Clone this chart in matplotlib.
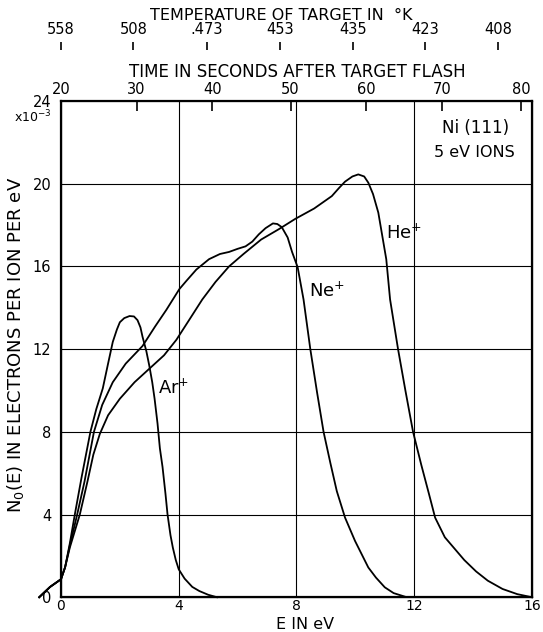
import matplotlib
matplotlib.use("Agg")
import matplotlib.pyplot as plt

# energy (eV) and N0(E) (x10^-3 electrons per ion per eV)
ar_e = [-0.74, -0.37, 0.0, 0.14, 0.3, 0.47, 0.7, 1.0, 1.2, 1.42, 1.6, 1.76, 1.9, 2.0,
        2.15, 2.33, 2.48, 2.6, 2.7, 2.77, 2.9, 3.0, 3.1, 3.18, 3.28, 3.36, 3.45, 3.55,
        3.62, 3.72, 3.8, 3.9, 4.0, 4.2, 4.46, 4.7, 5.0, 5.3]
ar_n = [0.0, 0.5, 0.87, 1.45, 2.6, 4.0, 5.8, 8.0, 9.1, 10.1, 11.3, 12.35, 12.95, 13.3,
        13.5, 13.6, 13.58, 13.4, 13.05, 12.6, 11.9, 11.2, 10.4, 9.6, 8.4, 7.2, 6.3, 5.0,
        4.0, 3.0, 2.4, 1.8, 1.35, 0.9, 0.5, 0.3, 0.12, 0.0]

ne_e = [-0.74, -0.37, 0.0, 0.14, 0.3, 0.55, 0.8, 1.12, 1.4, 1.76, 2.2, 2.77, 3.2, 3.58,
        4.02, 4.26, 4.6, 5.03, 5.4, 5.71, 6.0, 6.27, 6.5, 6.72, 6.95, 7.2, 7.35, 7.5,
        7.7, 7.85, 8.04, 8.24, 8.47, 8.7, 8.92, 9.15, 9.37, 9.65, 9.99, 10.44, 10.7,
        11.0, 11.3, 11.68]
ne_n = [0.0, 0.5, 0.87, 1.45, 2.5, 4.0, 5.6, 8.0, 9.3, 10.4, 11.3, 12.15, 13.1, 13.9,
        14.9, 15.3, 15.85, 16.35, 16.6, 16.7, 16.85, 16.97, 17.2, 17.55, 17.85, 18.08,
        18.05, 17.9, 17.4, 16.7, 15.96, 14.4, 12.0, 9.9, 8.0, 6.5, 5.13, 3.85, 2.72,
        1.44, 0.95, 0.48, 0.2, 0.03]

he_e = [-0.74, -0.37, 0.0, 0.14, 0.3, 0.64, 0.9, 1.1, 1.32, 1.6, 2.0, 2.5, 3.0, 3.5,
        3.92, 4.35, 4.8, 5.25, 5.71, 6.2, 6.8, 7.4, 7.96, 8.6, 9.2, 9.45, 9.65, 9.9,
        10.1, 10.3, 10.44, 10.6, 10.78, 10.9, 11.05, 11.18, 11.45, 11.7, 11.96, 12.24,
        12.5, 12.71, 13.04, 13.4, 13.7, 14.1, 14.5, 15.0, 15.5, 16.0]
he_n = [0.0, 0.5, 0.87, 1.45, 2.4, 4.0, 5.6, 6.9, 7.9, 8.8, 9.6, 10.4, 11.05, 11.7,
        12.45, 13.4, 14.4, 15.25, 16.0, 16.6, 17.3, 17.8, 18.3, 18.8, 19.4, 19.8, 20.1,
        20.35, 20.45, 20.35, 20.05, 19.5, 18.6, 17.6, 16.35, 14.4, 12.0, 10.0, 8.0, 6.4,
        5.0, 3.85, 2.9, 2.3, 1.8, 1.25, 0.8, 0.4, 0.15, 0.0]

x_ticks = [0, 4, 8, 12, 16]
y_ticks = [0, 4, 8, 12, 16, 20, 24]

# top scales: time after flash and target temperature, at their E positions
time_labels = ["20", "30", "40", "50", "60", "70", "80"]
time_pos = [0.0, 2.57, 5.14, 7.8, 10.37, 12.94, 15.64]
temp_labels = ["558", "508", ".473", "453", "435", "423", "408"]
temp_pos = [-0.14, 2.34, 4.85, 7.38, 9.86, 12.34, 14.84]

plt.rcParams['font.family'] = ['DejaVu Sans']

fig = plt.figure(figsize=(5.43, 6.32), dpi=100)
ax = fig.add_axes([0.1123, 0.055, 0.8674, 0.7852])

for e, n in [(ar_e, ar_n), (ne_e, ne_n), (he_e, he_n)]:
    ax.plot(e, n, color='black', lw=1.3, clip_on=False, zorder=3)

ax.set_xlim(0, 16)
ax.set_ylim(0, 24)
ax.set_xticks(x_ticks)
ax.set_yticks(y_ticks)
ax.tick_params(axis='y', length=0, labelsize=10.5, pad=7)
ax.tick_params(axis='x', length=0, labelsize=10, pad=1)
for v in x_ticks[1:-1]:
    ax.axvline(v, color='black', lw=0.8)
for v in y_ticks[1:-1]:
    ax.axhline(v, color='black', lw=0.8)
for s in ax.spines.values():
    s.set_linewidth(1.6)

ax.text(3.28, 10.1, "Ar$^{+}$", fontsize=13, va='center')
ax.text(8.41, 14.8, "Ne$^{+}$", fontsize=13, va='center')
ax.text(11.05, 17.6, "He$^{+}$", fontsize=13, va='center')
ax.text(14.1, 22.7, "Ni (111)", fontsize=12, ha='center', va='center')
ax.text(14.05, 21.5, "5 eV IONS", fontsize=11.5, ha='center', va='center')

# time axis on the top spine
ax_t = ax.twiny()
ax_t.set_xlim(0, 16)
ax_t.set_xticks(time_pos)
ax_t.set_xticklabels(time_labels)
ax_t.tick_params(direction='in', length=7, width=1.2, labelsize=10.5, pad=3)

# temperature scale floating above
ax_k = ax.twiny()
ax_k.set_xlim(0, 16)
ax_k.spines['top'].set_position(('outward', 37))
ax_k.spines['top'].set_visible(False)
ax_k.set_xticks(temp_pos)
ax_k.set_xticklabels(temp_labels)
ax_k.tick_params(direction='out', length=6, width=1.2, labelsize=10.5, pad=3)

fig.text(0.518, 0.976, "TEMPERATURE OF TARGET IN  °K", fontsize=11.5, ha='center', va='center')
fig.text(0.547, 0.886, "TIME IN SECONDS AFTER TARGET FLASH", fontsize=12, ha='center', va='center')
fig.text(0.096, 0.815, "x10$^{-3}$", fontsize=9, ha='right', va='center')
fig.text(0.028, 0.454, "N$_0$(E) IN ELECTRONS PER ION PER eV", fontsize=13,
         rotation=90, ha='center', va='center')
fig.text(0.562, 0.0, "E IN eV", fontsize=11.5, ha='center', va='bottom')

fig.savefig("out.png", dpi=100)
